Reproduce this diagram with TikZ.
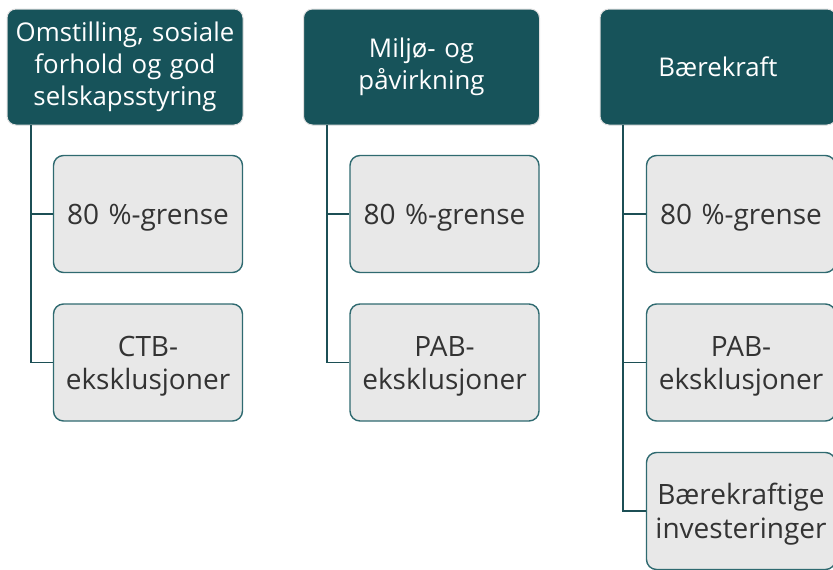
\documentclass[tikz,border=0pt]{standalone}
\usepackage{fontspec}
\setmainfont{Open Sans}
\definecolor{hdr}{HTML}{17535A}
\definecolor{chfill}{HTML}{E8E8E8}
\definecolor{chline}{HTML}{2F6A70}
\definecolor{conn}{HTML}{1C4F55}
\definecolor{txt}{HTML}{333333}
\tikzset{
  hdrbox/.style={draw=black!12, line width=1pt, fill=hdr, rounded corners=9pt, minimum width=236pt, minimum height=116pt, text width=230pt, align=center, text=white, font=\fontsize{25.8}{32}\selectfont, inner sep=0pt},
  chbox/.style={draw=chline, line width=1.4pt, fill=chfill, rounded corners=10pt, minimum width=189pt, minimum height=117pt, text width=186pt, align=center, text=txt, font=\fontsize{28}{33.5}\selectfont, inner sep=0pt, execute at begin node={\rule{0pt}{27.5pt}}},
  connline/.style={draw=conn, line width=1.6pt}
}
\begin{document}
\begin{tikzpicture}[x=1pt,y=-1pt]
\useasboundingbox (0,0) rectangle (833,570);
% headers
\node[hdrbox] (h1) at (125,67) {Omstilling, sosiale\\forhold og god\\selskapsstyring};
\node[hdrbox] (h2) at (421.5,67) {Miljø- og\\påvirkning};
\node[hdrbox] (h3) at (718,67) {Bærekraft};
% column 1
\coordinate (v1) at (31,125);
\node[chbox] (a1) at (148,214) {80 \%-grense};
\node[chbox] (a2) at (148,362.5) {CTB-\\eksklusjoner};
% column 2
\coordinate (v2) at (327,125);
\node[chbox] (b1) at (444.5,214) {80 \%-grense};
\node[chbox] (b2) at (444.5,362.5) {PAB-\\eksklusjoner};
% column 3
\coordinate (v3) at (623,125);
\node[chbox] (c1) at (741,214) {80 \%-grense};
\node[chbox] (c2) at (741,362.5) {PAB-\\eksklusjoner};
\node[chbox] (c3) at (741,511) {Bærekraftige\\investeringer};
% connectors
\draw[connline] (v1) |- (a1.west);
\draw[connline] (v1) |- (a2.west);
\draw[connline] (v2) |- (b1.west);
\draw[connline] (v2) |- (b2.west);
\draw[connline] (v3) |- (c1.west);
\draw[connline] (v3) |- (c2.west);
\draw[connline] (v3) |- (c3.west);
\end{tikzpicture}
\end{document}
